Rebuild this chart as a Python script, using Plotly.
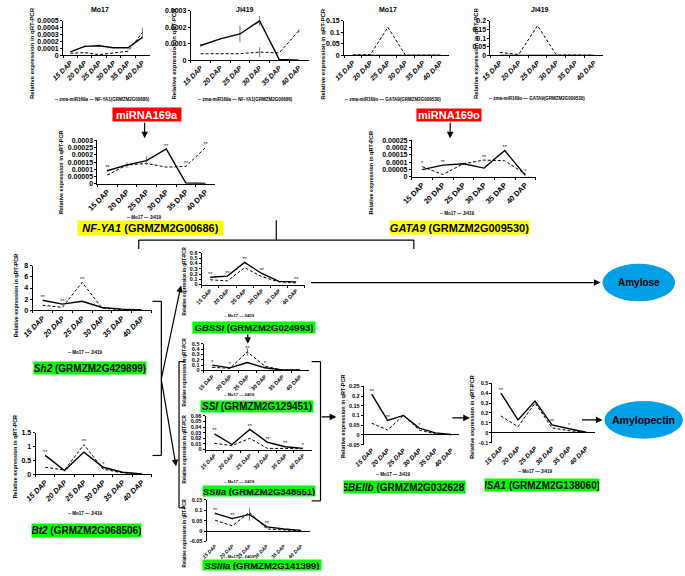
import plotly.graph_objects as go

W, H = 685, 576
FONT = "Liberation Sans, Arial, sans-serif"

DAP = ["15 DAP", "20 DAP", "25 DAP", "30 DAP", "35 DAP", "40 DAP"]

# top row: miRNA (dashed) vs target gene (solid)
mo17_mir169a = [0.00003, 0.00004, 0.00001, 0.00003, 0.00006, 0.00033]
mo17_nfya1_top = [0.00005, 0.00013, 0.00014, 0.00011, 0.00011, 0.00026]
ji419_mir169a = [0.00004, 0.00004, 0.00004, 0.00005, 0.000045, 0.00018]
ji419_nfya1_top = [0.00009, 0.00013, 0.00016, 0.00024, 0.000005, 0.000001]
mo17_mir169o = [0.002, 0.003, 0.122, 0.001, 0.001, 0.001]
mo17_gata9_top = [0.00007, 0.000016, 0.00009, 0.000115, 0.00011, 0.00002]
ji419_mir169o = [0.017, 0.005, 0.172, 0.002, 0.002, 0.001]
ji419_gata9_top = [0.00005, 0.00008, 0.00009, 0.00006, 0.00018, 0.00001]

# gene panels: Mo17 (dashed) vs Ji419 (solid)
nfya1_mo17 = [0.00006, 0.00013, 0.00014, 0.000115, 0.00012, 0.00025]
nfya1_ji419 = [0.00009, 0.00013, 0.00016, 0.00024, 0.000005, 0.000002]
gata9_mo17 = [0.00007, 0.000016, 0.00009, 0.000115, 0.00011, 0.00002]
gata9_ji419 = [0.00005, 0.00008, 0.00009, 0.00006, 0.00018, 0.00001]
sh2_mo17 = [0.9, 0.5, 5.0, 0.4, 0.1, 0.05]
sh2_ji419 = [1.8, 1.1, 1.6, 0.5, 0.2, 0.05]
bt2_mo17 = [0.25, 0.15, 1.07, 0.18, 0.05, 0.01]
bt2_ji419 = [0.68, 0.13, 0.8, 0.25, 0.07, 0.01]
gbssi_mo17 = [0.09, 0.07, 0.32, 0.15, 0.05, 0.03]
gbssi_ji419 = [0.14, 0.16, 0.42, 0.21, 0.06, 0.05]
ssi_mo17 = [0.06, 0.04, 0.35, 0.08, 0.01, 0.01]
ssi_ji419 = [0.1, 0.05, 0.15, 0.05, 0.01, 0.01]
ssiia_mo17 = [0.011, 0.007, 0.02, 0.002, 0.002, 0.001]
ssiia_ji419 = [0.028, 0.009, 0.036, 0.013, 0.005, 0.002]
ssiiia_mo17 = [0.052, 0.025, 0.09, 0.01, 0.005, 0.002]
ssiiia_ji419 = [0.085, 0.06, 0.08, 0.02, 0.01, 0.003]
sbeiib_mo17 = [0.06, 0.025, 0.1, 0.025, 0.005, 0.001]
sbeiib_ji419 = [0.21, 0.075, 0.1, 0.035, 0.01, 0.002]
isa1_mo17 = [0.17, 0.06, 0.3, 0.05, 0.02, 0.005]
isa1_ji419 = [0.4, 0.13, 0.32, 0.08, 0.04, 0.005]

# error bars (where visible)
mo17_mir169a_err = [0, 0, 0, 0, 0.00001, 0.00007]
mo17_nfya1_top_err = [0, 0.00002, 0.00002, 0, 0.00001, 0.00002]
ji419_nfya1_top_err = [0.00001, 0.000005, 0.00005, 0.00003, 0, 0]
ji419_mir169a_err = [0, 0, 0, 0.00003, 0, 0.00001]
nfya1_ji419_err = [0.00001, 0.00002, 0.00003, 0.00001, 0, 0]
ssi_mo17_err = [0.01, 0.01, 0.07, 0.01, 0, 0]
ssiiia_ji419_err = [0.005, 0.005, 0.03, 0.005, 0, 0]

# significance marks
stars_nfya1 = ["**", "", "", "**", "**", "**"]
stars_gata9 = ["*", "**", "", "**", "**", "*"]
stars_sh2 = ["**", "**", "**", "", "", ""]
stars_bt2 = ["**", "", "**", "*", "", ""]
stars_gbssi = ["**", "**", "**", "**", "", "**"]
stars_ssi = ["*", "*", "**", "*", "", ""]
stars_ssiia = ["**", "", "**", "**", "**", "*"]
stars_ssiiia = ["**", "**", "", "**", "", ""]
stars_sbeiib = ["**", "**", "", "*", "", ""]
stars_isa1 = ["**", "", "", "**", "*", ""]
no_stars = ["", "", "", "", "", ""]

YTITLE = "Relative expression in qRT-PCR"


def fx(px):
    return px / W


def fy(py):
    return 1 - py / H


def fmt(v):
    if abs(v) < 1e-12:
        return "0"
    return f"{v:.6f}".rstrip("0").rstrip(".")


fig = go.Figure()
axes = {}
annotations = []
shapes = []


def text(t, cx, cy, size, angle=0, bold=True, color="black"):
    annotations.append(dict(
        x=fx(cx), y=fy(cy), xref="paper", yref="paper", text=t, showarrow=False,
        textangle=angle, xanchor="center", yanchor="middle",
        font=dict(family=FONT, size=size, color=color, weight="bold" if bold else "normal"),
    ))


def label(t, cx, cy, w, h, bg, size, color="black"):
    annotations.append(dict(
        x=fx(cx), y=fy(cy), xref="paper", yref="paper", text=t, showarrow=False,
        bgcolor=bg, width=w, height=h, borderpad=0, xanchor="center", yanchor="middle",
        font=dict(family=FONT, size=size, color=color, weight="bold"),
    ))


def arrow(x0, y0, x1, y1):
    annotations.append(dict(
        x=fx(x1), y=fy(y1), xref="paper", yref="paper", ax=x0 - x1, ay=y0 - y1,
        axref="pixel", ayref="pixel", text="", showarrow=True, arrowhead=2,
        arrowsize=1.1, arrowwidth=1.2, arrowcolor="black", standoff=0,
    ))


def line(x0, y0, x1, y1, w=1.2):
    shapes.append(dict(type="line", xref="paper", yref="paper",
                       x0=fx(x0), y0=fy(y0), x1=fx(x1), y1=fy(y1),
                       line=dict(color="black", width=w)))


def panel(n, box, rng, dtick, dashed, solid, stars, fsy, fsx,
          dashed_err=None, solid_err=None, below_zero=False, italic=False):
    x0, x1, y_hi, y_lo = box
    xa = "xaxis" if n == 1 else f"xaxis{n}"
    ya = "yaxis" if n == 1 else f"yaxis{n}"
    xr = "x" if n == 1 else f"x{n}"
    yr = "y" if n == 1 else f"y{n}"
    nt = round((rng[1] - rng[0]) / dtick)
    vals = [round(rng[0] + k * dtick, 8) for k in range(nt + 1)]
    axes[xa] = dict(
        domain=[fx(x0), fx(x1)], anchor=yr, type="category",
        categoryorder="array", categoryarray=DAP, range=[-0.5, 5.5],
        showline=not below_zero, linecolor="black", linewidth=1, mirror=False,
        ticks="" if below_zero else "outside", tickson="boundaries", ticklen=2,
        tickcolor="black", tickangle=-45, showgrid=False, zeroline=False,
        tickfont=dict(family=FONT, size=fsx, color="black", weight="bold",
                      style="italic" if italic else "normal"),
    )
    axes[ya] = dict(
        domain=[fy(y_lo), fy(y_hi)], anchor=xr, range=list(rng),
        tickvals=vals, ticktext=[fmt(v) for v in vals],
        showline=True, linecolor="black", linewidth=1, ticks="outside",
        ticklen=2, tickcolor="black", showgrid=False,
        zeroline=below_zero, zerolinecolor="black", zerolinewidth=1,
        tickfont=dict(family=FONT, size=fsy, color="black", weight="bold"),
    )

    def err(e):
        if e is None:
            return None
        return dict(type="data", array=e, color="#555", thickness=0.8, width=0)

    fig.add_trace(go.Scatter(
        x=DAP, y=dashed, xaxis=xr, yaxis=yr, mode="lines",
        line=dict(color="black", width=1, dash="3px,2px"),
        error_y=err(dashed_err), hoverinfo="skip"))
    fig.add_trace(go.Scatter(
        x=DAP, y=solid, xaxis=xr, yaxis=yr, mode="lines",
        line=dict(color="black", width=1.4),
        error_y=err(solid_err), hoverinfo="skip"))
    top = [max(a, b) for a, b in zip(dashed, solid)]
    fig.add_trace(go.Scatter(
        x=DAP, y=top, xaxis=xr, yaxis=yr, mode="text", text=stars,
        textposition="top center", cliponaxis=False,
        textfont=dict(family=FONT, size=5.5, color="#222222"), hoverinfo="skip"))


# ---- top row: miRNA vs target ----
panel(1, (52, 140, 17, 52), (0, 0.0005), 0.0001, mo17_mir169a, mo17_nfya1_top,
      no_stars, 7, 7, mo17_mir169a_err, mo17_nfya1_top_err, italic=True)
panel(2, (182, 302, 7, 57), (0, 0.0003), 0.0001, ji419_mir169a, ji419_nfya1_top,
      no_stars, 7, 7, ji419_mir169a_err, ji419_nfya1_top_err, italic=True)
panel(3, (338, 445, 17, 52), (0, 0.15), 0.05, mo17_mir169o, mo17_gata9_top,
      no_stars, 7, 7, italic=True)
panel(4, (487, 602, 17, 52), (0, 0.2), 0.05, ji419_mir169o, ji419_gata9_top,
      no_stars, 7, 7, italic=True)
text("Mo17", 90, 6, 7)
text("Ji419", 237, 6, 7)
text("Mo17", 383, 6, 7)
text("Ji419", 537, 6, 7)
for cx in (21, 165, 317, 473):
    text(YTITLE, cx, 50, 6, angle=-90)
text("-- zma-miR169a — NF-YA1(GRMZM2G00686)", 92, 97, 4.5)
text("-- zma-miR169a — NF-YA1(GRMZM2G00686)", 238, 97, 4.5)
text("-- zma-miR169o — GATA9(GRMZM2G009530)", 388, 97, 4.5)
text("-- zma-miR169o — GATA9(GRMZM2G009530)", 534, 96, 4.5)

# ---- miRNA targets ----
label("miRNA169a", 137, 111.5, 68, 13, "#ff0000", 11, "white")
label("miRNA169o", 445, 112.5, 64, 12, "#ff0000", 11, "white")
arrow(135, 119, 135, 136)
arrow(446, 119, 446, 136)
panel(5, (87, 207, 138, 182), (0, 0.0003), 0.00005, nfya1_mo17, nfya1_ji419,
      stars_nfya1, 7, 7.5, None, nfya1_ji419_err)
panel(6, (407, 533, 138, 175), (0, 0.00025), 0.00005, gata9_mo17, gata9_ji419,
      stars_gata9, 7, 7.5)
text(YTITLE, 50, 171, 5.5, angle=-90)
text(YTITLE, 365, 171, 5.5, angle=-90)
text("-- Mo17 — Ji419", 135, 216, 4.5)
text("-- Mo17 — Ji419", 453, 212, 4.5)
label("<i>NF-YA1</i> (GRMZM2G00686)", 140.5, 227, 145, 14, "#ffff00", 11)
label("<i>GATA9</i> (GRMZM2G009530)", 455.5, 226, 139, 13, "#ffff00", 11)
line(269, 219, 269, 239)
line(129, 239, 409, 239)
line(129, 239, 129, 248)
line(409, 239, 409, 248)

# ---- sucrose -> starch genes ----
panel(7, (21, 142, 265, 310), (0, 8), 2, sh2_mo17, sh2_ji419, stars_sh2, 7, 7.5,
      italic=True)
panel(8, (24, 142, 434, 476), (0, 1.5), 0.5, bt2_mo17, bt2_ji419, stars_bt2, 7, 7.5,
      italic=True)
text(YTITLE, 5, 295, 5.5, angle=-90)
text(YTITLE, 4, 458, 5.5, angle=-90)
text("-- Mo17 — Ji419", 75, 353, 4.5)
text("-- Mo17 — Ji419", 75, 516, 4.5)
label("<i>Sh2</i> (GRMZM2G429899)", 79, 368, 112, 12, "#00ff00", 10)
label("<i>Bt2</i> (GRMZM2G068506)", 75.5, 532.5, 109, 13, "#00ff00", 10)
line(143, 301, 152, 301)
line(152, 301, 152, 457)
line(143, 457, 152, 457)
arrow(152, 380, 172, 285)
arrow(152, 380, 167, 468)

panel(9, (193, 298, 252, 284), (0, 0.6), 0.1, gbssi_mo17, gbssi_ji419,
      stars_gbssi, 5.5, 5.5)
panel(10, (195, 302, 344, 371), (0, 0.5), 0.1, ssi_mo17, ssi_ji419,
      stars_ssi, 5.5, 5.5, ssi_mo17_err, None)
panel(11, (197, 305, 417, 451), (0, 0.06), 0.01, ssiia_mo17, ssiia_ji419,
      stars_ssiia, 5.5, 5.5, italic=True)
panel(12, (198, 303, 502, 544), (-0.05, 0.15), 0.05, ssiiia_mo17, ssiiia_ji419,
      stars_ssiiia, 5.5, 5, None, ssiiia_ji419_err, below_zero=True, italic=True)
for cy in (280, 372, 450, 535):
    text(YTITLE, 176, cy, 4.5, angle=-90)
for cy in (315, 395, 483, 559):
    text("-- Mo17 — Ji419", 232, cy, 4)
label("<i>GBSSI</i> (GRMZM2G024993)", 246, 327, 122, 11, "#00ff00", 9.5)
label("<i>SSI</i> (GRMZM2G129451)", 249, 407.5, 112, 11, "#00ff00", 10)
label("<i>SSIIa</i> (GRMZM2G348551)", 251, 492.5, 112, 10, "#00ff00", 9.5)
label("<i>SSIIIa</i> (GRMZM2G141399)", 254, 568, 118, 10, "#00ff00", 9.5)
arrow(240, 333, 240, 344)
line(170, 362, 170, 510)
line(170, 362, 176, 362)
line(170, 510, 176, 510)
line(305, 362, 314, 362)
line(314, 362, 314, 503)
line(305, 503, 314, 503)
arrow(314, 418, 330, 418)

# amylose
arrow(308, 282, 599, 282)
shapes.append(dict(type="circle", xref="paper", yref="paper",
                   x0=fx(601), x1=fx(675), y0=fy(301), y1=fy(263),
                   fillcolor="#00a0e6", line=dict(color="#00a0e6", width=0)))
text("Amylose", 638, 282, 10)

# branching enzymes
panel(13, (358, 455, 387, 446), (-0.05, 0.25), 0.05, sbeiib_mo17, sbeiib_ji419,
      stars_sbeiib, 5.5, 6.5, below_zero=True, italic=True)
panel(14, (489, 593, 384, 444), (-0.1, 0.5), 0.1, isa1_mo17, isa1_ji419,
      stars_isa1, 5.5, 6.5, below_zero=True, italic=True)
text(YTITLE, 337, 418, 5.5, angle=-90)
text(YTITLE, 468, 418, 5.5, angle=-90)
text("-- Mo17 — Ji419", 388, 476, 4.5)
text("-- Mo17 — Ji419", 533, 473, 4.5)
label("<i>SBEIIb</i> (GRMZM2G032628)", 400, 488.5, 121, 12, "#00ff00", 10)
label("<i>ISA1</i> (GRMZM2G138060)", 539, 486.5, 114, 12, "#00ff00", 10)
arrow(447, 419, 466, 419)
arrow(579, 421, 601, 421)
shapes.append(dict(type="circle", xref="paper", yref="paper",
                   x0=fx(603), x1=fx(683), y0=fy(440), y1=fy(402),
                   fillcolor="#00a0e6", line=dict(color="#00a0e6", width=0)))
text("Amylopectin", 643, 421, 10.5)

fig.update_layout(
    width=W, height=H, margin=dict(l=0, r=0, t=0, b=0),
    plot_bgcolor="white", paper_bgcolor="white", showlegend=False,
    annotations=annotations, shapes=shapes, **axes,
)
fig.write_html("out.html", config={"displayModeBar": False},
               post_script="document.body.style.margin='0';")
